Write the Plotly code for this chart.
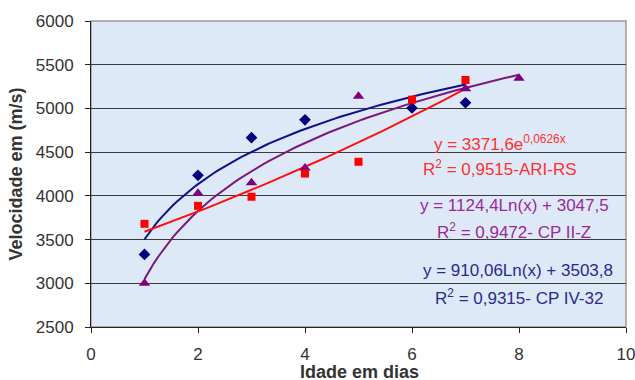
import numpy as np
import plotly.graph_objects as go

# Data points
x_cp4 = [1, 2, 3, 4, 6, 7]
y_cp4 = [3330, 4235, 4665, 4870, 5005, 5065]

x_ari = [1, 2, 3, 4, 5, 6, 7]
y_ari = [3680, 3886, 3990, 4255, 4390, 5100, 5325]

x_cp2 = [1, 2, 3, 4, 5, 7, 8]
y_cp2 = [3000, 4030, 4150, 4320, 5140, 5225, 5345]

# Trendline coefficients (from the chart's equations)
ari_a, ari_b = 3371.6, 0.0626
cp2_a, cp2_b = 1124.4, 3047.5
cp4_a, cp4_b = 910.06, 3503.8

x_ticks = [0, 2, 4, 6, 8, 10]
y_ticks = [2500, 3000, 3500, 4000, 4500, 5000, 5500, 6000]

NAVY = "#10108a"
PURPLE = "#7a1a7a"
RED = "#ff1010"

xs7 = np.linspace(1, 7, 80)
xs8 = np.linspace(1, 8, 80)

fig = go.Figure()
fig.add_trace(go.Scatter(x=xs8, y=cp2_a * np.log(xs8) + cp2_b, mode="lines",
                         line=dict(color=PURPLE, width=2), showlegend=False))
fig.add_trace(go.Scatter(x=xs7, y=cp4_a * np.log(xs7) + cp4_b, mode="lines",
                         line=dict(color=NAVY, width=2), showlegend=False))
fig.add_trace(go.Scatter(x=xs7, y=ari_a * np.exp(ari_b * xs7), mode="lines",
                         line=dict(color=RED, width=2), showlegend=False))

fig.add_trace(go.Scatter(x=x_cp2, y=y_cp2, mode="markers",
                         marker=dict(symbol="triangle-up", size=10, color="#800080"),
                         showlegend=False))
fig.add_trace(go.Scatter(x=x_cp4, y=y_cp4, mode="markers",
                         marker=dict(symbol="diamond", size=9, color="#000080"),
                         showlegend=False))
fig.add_trace(go.Scatter(x=x_ari, y=y_ari, mode="markers",
                         marker=dict(symbol="square", size=8, color="#ff0000"),
                         showlegend=False))

FONT = "Liberation Sans, Arial, sans-serif"
ann = [
    ("y = 3371,6e<sup>0,0626x</sup>", 500, 143, "#ff3030", 17, "middle"),
    ("R<sup>2</sup> = 0,9515-ARI-RS", 500, 168, "#ff3030", 17, "middle"),
    ("y = 1124,4Ln(x) + 3047,5", 514, 205, "#9a2a9a", 17, "middle"),
    ("R<sup>2</sup> = 0,9472- CP II-Z", 514, 231, "#9a2a9a", 17, "middle"),
    ("y = 910,06Ln(x) + 3503,8", 518, 270, "#2a2a90", 17, "middle"),
    ("R<sup>2</sup> = 0,9315- CP IV-32", 519, 297, "#2a2a90", 17, "middle"),
    ("<b>Idade em dias</b>", 359, 360, "#333333", 18, "top"),
]
for text, px, py, col, fs, ya in ann:
    fig.add_annotation(text=text, x=px, y=py, xref="paper", yref="paper",
                       showarrow=False, font=dict(family=FONT, size=fs, color=col),
                       xanchor="center", yanchor=ya)

# convert pixel positions to paper coords
L, R, T, B = 91, 9, 21, 53
W, H = 635, 380
pw, ph = W - L - R, H - T - B
for a in fig.layout.annotations:
    a.x = (a.x - L) / pw
    a.y = 1 - (a.y - T) / ph

fig.update_layout(
    width=W, height=H,
    margin=dict(l=L, r=R, t=T, b=B),
    paper_bgcolor="white",
    plot_bgcolor="#dde9f6",
    font=dict(family=FONT, size=17, color="#333333"),
    xaxis=dict(range=[0, 10], tickvals=x_ticks, showgrid=False, zeroline=False,
               showline=True, linecolor="#222222", linewidth=1, mirror=False,
               ticks="outside", ticklen=5, tickcolor="#222222", ticklabelstandoff=7,
               ticklabeloverflow="allow", automargin=False),
    yaxis=dict(range=[2500, 6000], tickvals=y_ticks, showgrid=True, gridcolor="#3a3a3a",
               gridwidth=1.2, zeroline=False,
               showline=True, linecolor="#222222", linewidth=1, automargin=False,
               ticks="outside", ticklen=5, tickcolor="#222222", ticklabelstandoff=8,
               title=dict(text="<b>Velocidade em (m/s)</b>", font=dict(size=18, color="#333333"), standoff=8)),
)
fig.add_shape(type="rect", xref="paper", yref="paper", x0=0, y0=0, x1=1, y1=1,
              line=dict(color="#999999", width=1.5), layer="below")
fig.write_html("out.html")
